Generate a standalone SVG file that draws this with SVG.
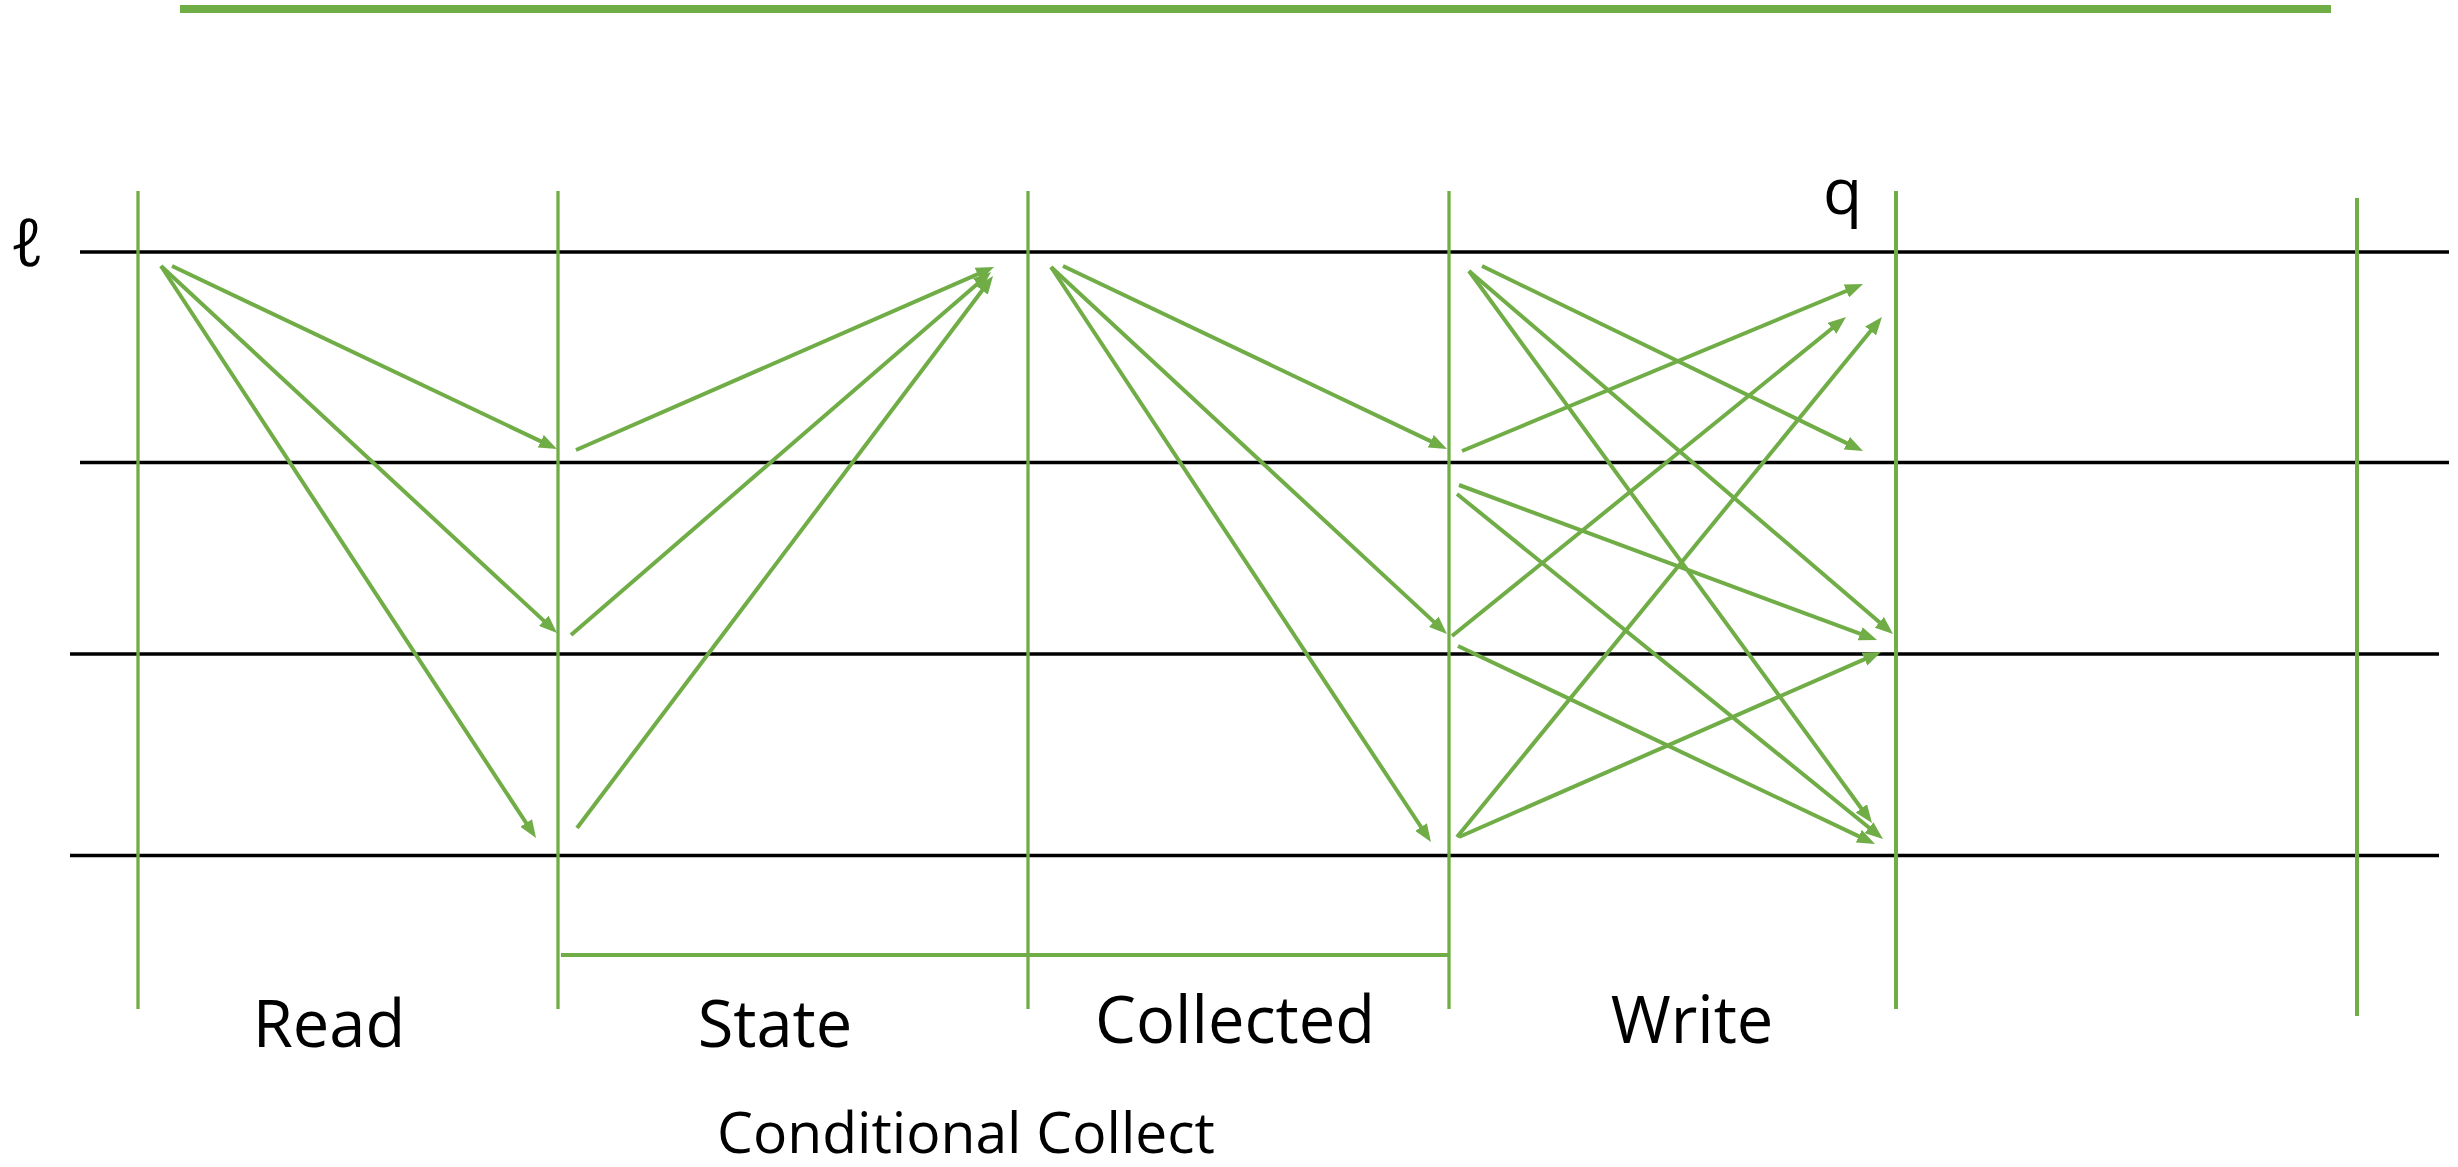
<svg xmlns="http://www.w3.org/2000/svg" width="2458" height="1167" viewBox="0 0 2458 1167">
  <style>
    .lane { stroke: #000000; stroke-width: 3.5; fill: none; }
    .phase { stroke: #70AD47; stroke-width: 3.3; fill: none; }
    .phase-wide { stroke: #70AD47; stroke-width: 4; fill: none; }
    .msg { stroke: #70AD47; stroke-width: 4; fill: none; marker-end: url(#head); }
    .label { font-family: "Open Sans", "Liberation Sans", sans-serif; fill: #000000; }
  </style>
  <defs>
    <marker id="head" markerUnits="userSpaceOnUse" markerWidth="18" markerHeight="14" viewBox="0 0 18 14" refX="9" refY="7" orient="auto">
      <path d="M0,0 L18,7 L0,14 z" fill="#70AD47"/>
    </marker>
  </defs>

  <rect width="2458" height="1167" fill="#ffffff"/>

  <!-- top bar -->
  <line x1="180" y1="9" x2="2331" y2="9" stroke="#70AD47" stroke-width="8"/>

  <!-- process lanes -->
  <g id="lanes">
    <line class="lane" x1="80" y1="252" x2="2449" y2="252"/>
    <line class="lane" x1="80" y1="462.5" x2="2449" y2="462.5"/>
    <line class="lane" x1="70" y1="654" x2="2439" y2="654"/>
    <line class="lane" x1="70" y1="855.5" x2="2439" y2="855.5"/>
  </g>

  <!-- phase boundaries -->
  <g id="phases">
    <line class="phase" x1="138" y1="191" x2="138" y2="1009"/>
    <line class="phase" x1="558" y1="191" x2="558" y2="1009"/>
    <line class="phase" x1="1028" y1="191" x2="1028" y2="1009"/>
    <line class="phase" x1="1449" y1="191" x2="1449" y2="1009"/>
    <line class="phase-wide" x1="1896" y1="191" x2="1896" y2="1009"/>
    <line class="phase-wide" x1="2357" y1="198" x2="2357" y2="1016"/>
    <!-- conditional collect span -->
    <line class="phase-wide" x1="561" y1="955" x2="1448" y2="955"/>
  </g>

  <!-- messages between processes -->
  <g id="connectors">
    <!-- Read -->
    <line class="msg" x1="172" y1="266" x2="548.9" y2="445.1"/>
    <line class="msg" x1="161" y1="266" x2="550.4" y2="626.9"/>
    <line class="msg" x1="161" y1="266" x2="531.1" y2="830.5"/>
    <!-- State -->
    <line class="msg" x1="576" y1="450" x2="985.8" y2="270.6"/>
    <line class="msg" x1="571" y1="635" x2="984.2" y2="277.9"/>
    <line class="msg" x1="577" y1="828" x2="987.6" y2="283.2"/>
    <!-- Collected -->
    <line class="msg" x1="1063" y1="266" x2="1438.9" y2="445.1"/>
    <line class="msg" x1="1051" y1="267" x2="1440.4" y2="627.9"/>
    <line class="msg" x1="1051" y1="267" x2="1426" y2="834.5"/>
    <!-- Write -->
    <line class="msg" x1="1482" y1="266" x2="1854.9" y2="447.1"/>
    <line class="msg" x1="1469" y1="271" x2="1886.2" y2="628.1"/>
    <line class="msg" x1="1469" y1="271" x2="1866.7" y2="815.7"/>
    <line class="msg" x1="1462" y1="451" x2="1854.7" y2="287.5"/>
    <line class="msg" x1="1459" y1="485" x2="1868.6" y2="636.9"/>
    <line class="msg" x1="1457" y1="494" x2="1876" y2="833.3"/>
    <line class="msg" x1="1452" y1="636" x2="1839" y2="322.7"/>
    <line class="msg" x1="1458" y1="646" x2="1866.9" y2="840.1"/>
    <line class="msg" x1="1457" y1="837" x2="1876.3" y2="324"/>
    <line class="msg" x1="1459" y1="837" x2="1872.8" y2="655.6"/>
  </g>

  <!-- labels -->
  <g id="labels">
    <text class="label" x="10" y="266" font-family="DejaVu Serif, serif" font-size="66">ℓ</text>
    <text class="label" x="1823" y="214" font-size="64">q</text>
    <text class="label" x="329" y="1047" font-size="65" text-anchor="middle">Read</text>
    <text class="label" x="775" y="1047" font-size="65" text-anchor="middle">State</text>
    <text class="label" x="1235" y="1043" font-size="65" text-anchor="middle">Collected</text>
    <text class="label" x="1692" y="1043" font-size="65" text-anchor="middle">Write</text>
    <text class="label" x="966" y="1153" font-size="57" text-anchor="middle">Conditional Collect</text>
  </g>
</svg>
